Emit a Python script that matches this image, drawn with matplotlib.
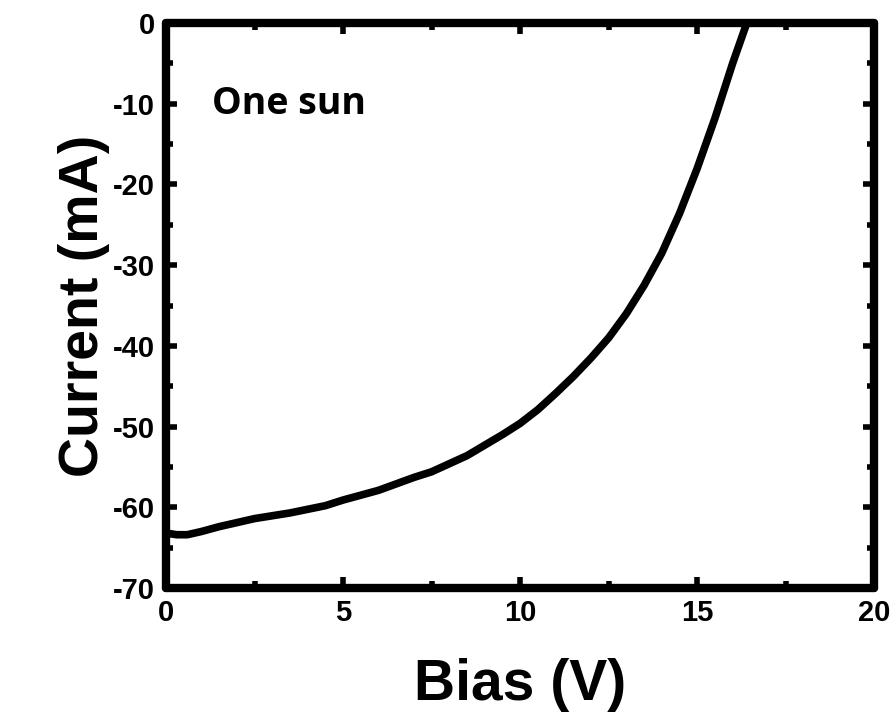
import matplotlib.pyplot as plt
from matplotlib.ticker import MultipleLocator

plt.rcParams['axes.unicode_minus'] = False

bias = [0.0, 0.3, 0.6, 1.0, 1.5, 2.5, 3.5, 4.5, 5.0, 6.0, 7.0, 7.5, 8.5, 9.5,
        10.0, 10.5, 11.0, 11.5, 12.0, 12.5, 13.0, 13.5, 14.0, 14.5, 15.0,
        15.5, 16.0, 16.4]
current = [-63.2, -63.4, -63.4, -63.0, -62.4, -61.4, -60.7, -59.8, -59.1, -57.9,
           -56.3, -55.6, -53.6, -51.0, -49.6, -47.9, -45.9, -43.8, -41.5, -39.0,
           -36.0, -32.5, -28.5, -23.6, -18.0, -11.8, -5.0, 0.0]

fig = plt.figure(figsize=(8.93, 7.21), dpi=100)
ax = fig.add_axes([0.186, 0.1845, 0.793, 0.7835])

ax.plot(bias, current, color='black', lw=5.5, solid_capstyle='round', solid_joinstyle='round')

ax.set_xlim(0, 20)
ax.set_ylim(-70, 0)
ax.xaxis.set_major_locator(MultipleLocator(5))
ax.xaxis.set_minor_locator(MultipleLocator(2.5))
ax.yaxis.set_major_locator(MultipleLocator(10))
ax.yaxis.set_minor_locator(MultipleLocator(5))

for s in ax.spines.values():
    s.set_linewidth(6)
    s.set_capstyle('round')

ax.tick_params(which='both', direction='in', top=True, right=True, width=4, color='black')
ax.tick_params(which='major', length=8, pad=8)
ax.tick_params(which='minor', length=5)
for lab in ax.get_xticklabels() + ax.get_yticklabels():
    lab.set_fontfamily('Liberation Sans')
    lab.set_fontweight('bold')
    lab.set_fontsize(21)

ax.set_xlabel('Bias (V)', fontsize=41, fontweight='bold', family='Liberation Sans', labelpad=22)
ax.set_ylabel('Current (mA)', fontsize=40, fontweight='bold', family='Liberation Sans', labelpad=2)

ax.text(1.3, -10, 'One sun', fontsize=27, fontweight='bold', family='Open Sans', va='center')

fig.savefig('out.png', dpi=100)
